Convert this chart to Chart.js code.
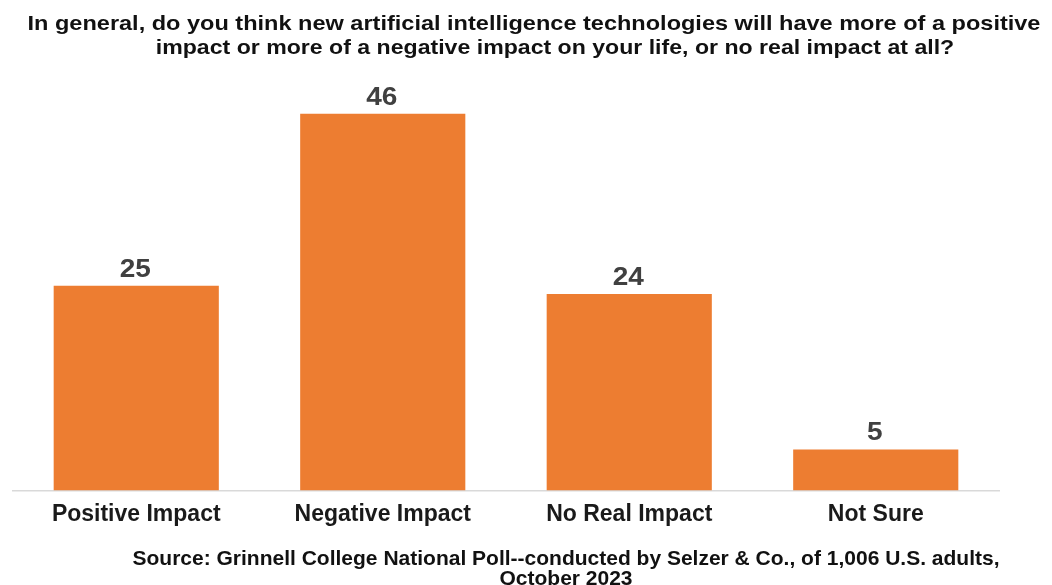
<!DOCTYPE html>
<html>
<head>
<meta charset="utf-8">
<script src="https://cdn.jsdelivr.net/npm/chart.js@4"></script>
<style>
  html, body { margin: 0; padding: 0; background: #fff; }
  #wrap { width: 1052px; height: 585px; }
</style>
</head>
<body>
<div id="wrap"><canvas id="aiChart" width="1052" height="585"></canvas></div>
<script>
// data
const categories = ['Positive Impact', 'Negative Impact', 'No Real Impact', 'Not Sure'];
const percentages = [25, 46, 24, 5];
const titleLines = [
    'In general, do you think new artificial intelligence technologies will have more of a positive',
    'impact or more of a negative impact on your life, or no real impact at all?'
];
const sourceLines = [
    'Source: Grinnell College National Poll--conducted by Selzer & Co., of 1,006 U.S. adults,',
    'October 2023'
];

const FONT = "'Liberation Sans', Arial, sans-serif";

// text drawn with a slight horizontal stretch, like the reference image
function stretchedText(ctx, text, cx, baseline, sx) {
    ctx.save();
    ctx.translate(cx, baseline);
    ctx.scale(sx, 1);
    ctx.fillText(text, 0, 0);
    ctx.restore();
}

// value over each bar
const valueLabels = {
    id: 'valueLabels',
    afterDatasetsDraw(chart) {
        const ctx = chart.ctx;
        const meta = chart.getDatasetMeta(0);
        ctx.save();
        ctx.font = 'bold 25px ' + FONT;
        ctx.fillStyle = '#404040';
        ctx.textAlign = 'center';
        ctx.textBaseline = 'alphabetic';
        meta.data.forEach((bar, i) => {
            stretchedText(ctx, String(percentages[i]), bar.x - 1, bar.y - 9, 1.12);
        });
        ctx.restore();
    }
};

// question on top, source line at the bottom
const headerFooter = {
    id: 'headerFooter',
    afterDraw(chart) {
        const ctx = chart.ctx;
        ctx.save();
        ctx.fillStyle = '#111';
        ctx.textAlign = 'center';
        ctx.textBaseline = 'alphabetic';
        ctx.font = 'bold 21px ' + FONT;
        stretchedText(ctx, titleLines[0], 534, 30, 1.12);
        stretchedText(ctx, titleLines[1], 555, 54, 1.1);
        ctx.font = 'bold 21px ' + FONT;
        stretchedText(ctx, sourceLines[0], 566, 565, 1.0);
        stretchedText(ctx, sourceLines[1], 566, 585, 1.0);
        ctx.restore();
    }
};

const ctx = document.getElementById('aiChart').getContext('2d');
new Chart(ctx, {
    type: 'bar',
    data: {
        labels: categories,
        datasets: [{
            data: percentages,
            backgroundColor: '#ED7D31',
            barPercentage: 0.67,
            categoryPercentage: 1.0,
        }],
    },
    options: {
        responsive: false,
        animation: false,
        layout: {
            padding: { left: 13, right: 53, top: 81, bottom: 47 }
        },
        scales: {
            x: {
                grid: { display: false, drawTicks: false },
                border: { display: true, color: '#d9d9d9', width: 1.5 },
                ticks: {
                    color: '#1a1a1a',
                    font: { family: FONT, size: 23, weight: 'bold' },
                    padding: 10,
                },
            },
            y: {
                display: false,
                min: 0,
                max: 50,
            },
        },
        plugins: {
            legend: { display: false },
            tooltip: { enabled: false },
            title: { display: false },
        },
    },
    plugins: [valueLabels, headerFooter],
});
</script>
</body>
</html>
